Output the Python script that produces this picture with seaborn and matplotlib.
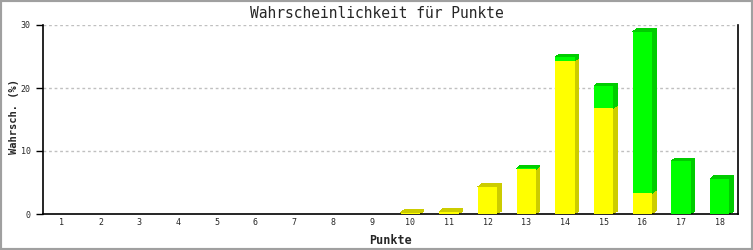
import matplotlib
matplotlib.use("Agg")
import matplotlib.pyplot as plt
import seaborn as sns
import pandas as pd
import numpy as np
from matplotlib.patches import Polygon, Rectangle

# ---- data ----
punkte = [str(i) for i in range(1, 19)]
gelb = [0, 0, 0, 0, 0, 0, 0, 0, 0, 0.2, 0.35, 4.3, 7.1, 24.3, 16.8, 3.3, 0, 0]
gruen = [0, 0, 0, 0, 0, 0, 0, 0, 0, 0, 0, 0, 0.15, 0.6, 3.5, 25.6, 8.4, 5.6]
yticks = [0, 10, 20, 30]
title = "Wahrscheinlichkeit für Punkte"
xlabel = "Punkte"
ylabel = "Wahrsch. (%)"

YEL, YEL_D = "#ffff00", "#cccc00"
GRN, GRN_D = "#00ff00", "#00cc00"

df = pd.DataFrame({"Punkte": punkte, "gelb": gelb, "gruen": gruen})
df["gesamt"] = df["gelb"] + df["gruen"]

sns.set_style("white")
mono = ["DejaVu Sans Mono"]

W, H = 753, 250
fig = plt.figure(figsize=(W / 100, H / 100), dpi=100)
L, R, B, T = 43, 738, 214, 25
ax = fig.add_axes([L / W, (H - B) / H, (R - L) / W, (B - T) / H])

sns.barplot(data=df, x="Punkte", y="gesamt", color=GRN, saturation=1,
            width=0.5, ax=ax, linewidth=0, zorder=3)
green_patches = list(ax.patches)
sns.barplot(data=df, x="Punkte", y="gelb", color=YEL, saturation=1,
            width=0.5, ax=ax, linewidth=0, zorder=4)
yel_patches = list(ax.patches)[len(green_patches):]
for p in ax.patches:
    p.set_antialiased(False)

ax.set_xlim(-0.49, 17.47)
ax.set_ylim(0, 30)

# 3D offsets (pixels -> data)
xr = (17.47 + 0.49) / (R - L)
yr = 30 / (B - T)
dx, dy = 4 * xr, 3 * yr

def side(x, y0, y1, c, z):
    ax.add_patch(Polygon([(x, y0), (x + dx, y0 + dy), (x + dx, y1 + dy), (x, y1)],
                         closed=True, facecolor=c, edgecolor="none", zorder=z,
                         antialiased=False))

def top(x0, x1, y, c, z):
    ax.add_patch(Polygon([(x0, y), (x0 + dx, y + dy), (x1 + dx, y + dy), (x1, y)],
                         closed=True, facecolor=c, edgecolor="none", zorder=z,
                         antialiased=False))

for gp, yp in zip(green_patches, yel_patches):
    x0 = gp.get_x()
    w = gp.get_width()
    ht = gp.get_height()
    hy = yp.get_height()
    if ht <= 0:
        continue
    if hy > 0:
        side(x0 + w, 0, hy, YEL_D, 2)
    if ht > hy:
        side(x0 + w, hy, ht, GRN_D, 2)
        top(x0, x0 + w, ht, GRN_D, 2)
    else:
        top(x0, x0 + w, hy, YEL_D, 2)

ax.set_yticks(yticks)
ax.set_yticklabels([str(v) for v in yticks], fontfamily=mono, fontsize=6)
for lab in ax.get_xticklabels():
    lab.set_fontfamily(mono)
    lab.set_fontsize(6)
ax.tick_params(axis="y", direction="out", length=5, width=1, color="black", pad=4)
ax.tick_params(axis="x", length=0, pad=3)
ax.yaxis.set_ticks_position("left")

for v in yticks[1:]:
    ax.axhline(v, color="#c0c0c0", lw=1, ls=(0, (2, 2)), zorder=1)

for s in ["left", "bottom", "right"]:
    ax.spines[s].set_visible(True)
    ax.spines[s].set_color("black")
    ax.spines[s].set_linewidth(1.2)
ax.spines["top"].set_visible(False)

ax.set_xlabel(xlabel, fontfamily=mono, fontweight="bold", fontsize=8.5, va="center")
ax.xaxis.set_label_coords(0.5, -(240 - B) / (B - T))
ax.set_ylabel(ylabel, fontfamily=mono, fontweight="bold", fontsize=7.5, va="center")
ax.yaxis.set_label_coords(-(L - 14) / (R - L), (B - 117) / (B - T))
fig.text(0.5, 1 - 13 / H, title, ha="center", va="center", fontfamily=mono, fontsize=10.5)

fig.patches.append(Rectangle((0, 0), 1, 1, transform=fig.transFigure, fill=False,
                             edgecolor="#a0a0a0", lw=3))

fig.savefig("out.png", dpi=100, facecolor="white")
